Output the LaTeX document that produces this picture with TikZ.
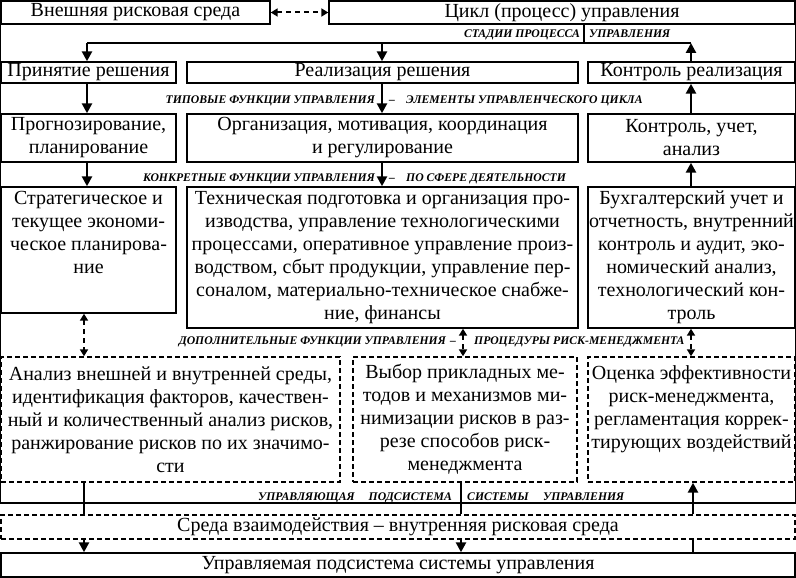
\documentclass[tikz,border=0pt]{standalone}
\usepackage{fontspec}
\setmainfont{Liberation Serif}
\usetikzlibrary{arrows.meta}
\newcommand\mainfs{\fontsize{20}{23}\selectfont}
\newcommand\labfs{\fontsize{11.7}{13}\selectfont\bfseries\itshape}
\begin{document}
\begin{tikzpicture}[x=1pt,y=-1pt,
  bx/.style={draw, line width=1.4pt, inner sep=0pt, font=\mainfs, align=center},
  dbx/.style={bx, dash pattern=on 5pt off 3pt},
  txt/.style={inner sep=0pt, font=\mainfs, align=center},
  lab/.style={inner sep=0pt, font=\labfs},
  ln/.style={line width=2.6pt},
  arr/.style={line width=2.6pt, -{Triangle[width=10pt,length=10pt]}},
  darr/.style={line width=2.4pt, dash pattern=on 5pt off 4pt,
     {Triangle[width=8pt,length=7pt]}-{Triangle[width=8pt,length=7pt]}},
  frame/.style={line width=1.4pt}]
\useasboundingbox (0,0) rectangle (796,578);

% top boxes
\node[bx, minimum width=269, minimum height=23] (A) at (135.5,12.5) {Внешняя рисковая среда};
\node[bx, minimum width=466, minimum height=23] (B) at (562,12.5) {Цикл (процесс) управления};
\coordinate (fb) at (400,503);
\draw[frame] (A.north west) -- (A.north west |- fb) -- (B.north east |- fb) -- (B.north east);
\draw[darr, line width=2pt] (A.east) -- (B.west);

% column x coordinates
\coordinate (xL) at (87,0);
\coordinate (xM) at (382,0);
\coordinate (xR) at (691,0);
\coordinate (xL2) at (84,0);
\coordinate (xM2) at (463,0);
\coordinate (xM3) at (461,0);
\coordinate (xR3) at (693,0);

% row 1
\node[bx, minimum width=175, minimum height=21] (R1a) at (88.5,72.5) {Принятие решения};
\node[bx, minimum width=391, minimum height=21] (R1b) at (382.5,72.5) {Реализация решения};
\node[bx, minimum width=207, minimum height=21] (R1c) at (691.5,72.5) {Контроль реализация};

% distribution line
\coordinate (h1) at (87,43);
\coordinate (h2) at (691,43);
\coordinate (hj) at (584,43);
\coordinate (hm) at (382,43);
\draw[line width=1.6pt] (B.south -| hj) -- (hj);
\draw[line width=2.4pt] (h1) -- (h2);
\draw[arr] (h1) -- (R1a.north -| xL);
\draw[arr] (hm) -- (R1b.north -| xM);
\draw[arr] (R1c.north -| xR) -- (h2);

\node[lab, anchor=base east] (l1a) at (580,38) {СТАДИИ ПРОЦЕССА};
\node[lab, anchor=base west] (l1b) at (589,38) {УПРАВЛЕНИЯ};

% row 2
\node[bx, minimum width=175, minimum height=48] (R2a) at (88.5,138) {Прогнозирование,\\планирование};
\node[bx, minimum width=391, minimum height=48] (R2b) at (382.5,138) {Организация, мотивация, координация\\и регулирование};
\node[bx, minimum width=207, minimum height=48] (R2c) at (691.5,138) {Контроль, учет,\\анализ};

\draw[arr] (R1a.south -| xL) -- (R2a.north -| xL);
\draw[arr] (R1b.south -| xM) -- (R2b.north -| xM);
\draw[arr] (R2c.north -| xR) -- (R1c.south -| xR);

\node[lab, anchor=base east] (l2a) at (375,103) {ТИПОВЫЕ ФУНКЦИИ УПРАВЛЕНИЯ};
\node[lab, anchor=base] (l2m) at (392,103) {–};
\node[lab, anchor=base west] (l2b) at (406,103) {ЭЛЕМЕНТЫ УПРАВЛЕНЧЕСКОГО ЦИКЛА};

% row 3
\node[bx, minimum width=175, minimum height=126] (R3a) at (88.5,250) {};
\node[txt, anchor=north] (R3at) at (88.5,191) {Стратегическое и\\текущее экономи-\\ческое планирова-\\ние};
\node[bx, minimum width=391, minimum height=141] (R3b) at (382.5,257.5) {Техническая подготовка и организация про-\\изводства, управление технологическими\\процессами, оперативное управление произ-\\водством, сбыт продукции, управление пер-\\соналом, материально-техническое снабже-\\ние, финансы};
\node[bx, minimum width=207, minimum height=141] (R3c) at (691.5,257.5) {Бухгалтерский учет и\\отчетность, внутренний\\контроль и аудит, эко-\\номический анализ,\\технологический кон-\\троль};

\draw[arr] (R2a.south -| xL) -- (R3a.north -| xL);
\draw[arr] (R2b.south -| xM) -- (R3b.north -| xM);
\draw[arr] (R3c.north -| xR) -- (R2c.south -| xR);

\node[lab, anchor=base east] (l3a) at (375,181) {КОНКРЕТНЫЕ ФУНКЦИИ УПРАВЛЕНИЯ};
\node[lab, anchor=base] (l3m) at (392,181) {–};
\node[lab, anchor=base west] (l3b) at (406,181) {ПО СФЕРЕ ДЕЯТЕЛЬНОСТИ};

% row 4
\node[dbx, minimum width=339, minimum height=125] (R4a) at (170.5,419.5) {Анализ внешней и внутренней среды,\\идентификация факторов, качествен-\\ный и количественный анализ рисков,\\ранжирование рисков по их значимо-\\сти};
\node[dbx, minimum width=224, minimum height=125] (R4b) at (465,419.5) {Выбор прикладных ме-\\тодов и механизмов ми-\\нимизации рисков в раз-\\резе способов риск-\\менеджмента};
\node[dbx, minimum width=207, minimum height=125] (R4c) at (691.5,419.5) {};
\node[txt, anchor=north] (R4ct) at (691.5,365) {Оценка эффективности\\риск-менеджмента,\\регламентация коррек-\\тирующих воздействий};

\draw[darr] (R3a.south -| xL2) -- (R4a.north -| xL2);
\draw[darr] (R3b.south -| xM2) -- (R4b.north -| xM2);
\draw[darr] (R3c.south -| xR) -- (R4c.north -| xR);

\node[lab, anchor=base east] (l4a) at (446,344) {ДОПОЛНИТЕЛЬНЫЕ ФУНКЦИИ УПРАВЛЕНИЯ};
\node[lab, anchor=base] (l4m) at (453,344) {–};
\node[lab, anchor=base west] (l4b) at (474,344) {ПРОЦЕДУРЫ РИСК-МЕНЕДЖМЕНТА};

% bottom
\node[dbx, fill=white, minimum width=794, minimum height=24] (S) at (398,527) {Среда взаимодействия – внутренняя рисковая среда};
\node[bx, minimum width=794, minimum height=24] (U) at (398,565) {Управляемая подсистема системы управления};

\draw[ln] (R4a.south -| xL2) -- (S.north -| xL2);
\draw[arr] (S.south -| xL2) -- (U.north -| xL2);
\draw[ln] (R4b.south -| xM3) -- (S.north -| xM3);
\draw[arr] (S.south -| xM3) -- (U.north -| xM3);
\draw[ln] (U.north -| xR3) -- (S.south -| xR3);
\draw[arr] (S.north -| xR3) -- (R4c.south -| xR3);

\node[lab, anchor=base west] (l5a) at (258,500) {УПРАВЛЯЮЩАЯ};
\node[lab, anchor=base east] (l5b) at (452,500) {ПОДСИСТЕМА};
\node[lab, anchor=base west] (l5c) at (467,500) {СИСТЕМЫ};
\node[lab, anchor=base west] (l5d) at (543,500) {УПРАВЛЕНИЯ};
\end{tikzpicture}
\end{document}
